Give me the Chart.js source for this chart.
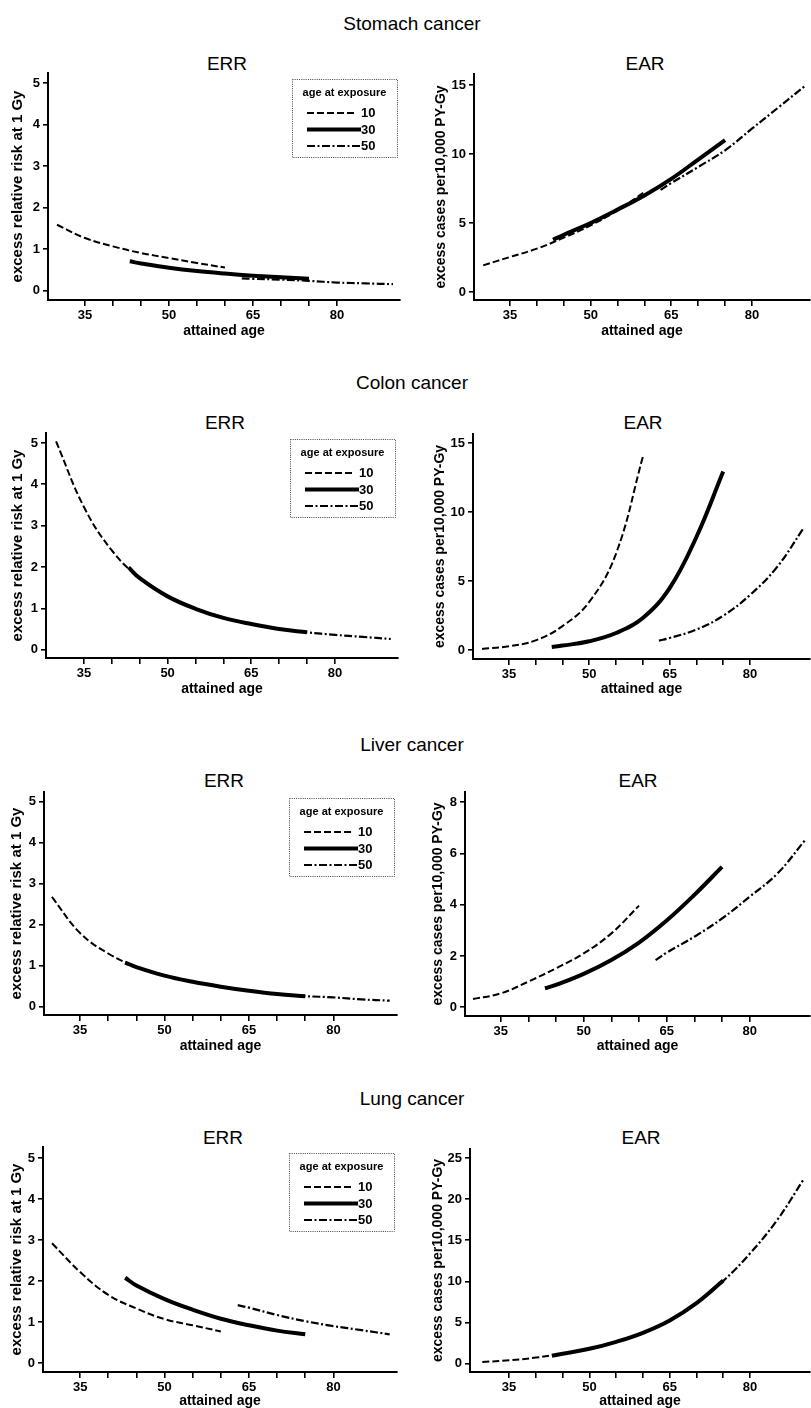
<!DOCTYPE html>
<html>
<head>
<meta charset="utf-8">
<script src="https://cdn.jsdelivr.net/npm/chart.js@4.4.0/dist/chart.umd.min.js"></script>
<style>
html,body{margin:0;padding:0;background:#fff;overflow:hidden;}
#page{position:relative;width:811px;height:1408px;overflow:hidden;background:#fff;font-family:"Liberation Sans",Arial,Helvetica,sans-serif;}
.t{position:absolute;transform:translate(-50%,-50%);font-size:19px;line-height:1;white-space:nowrap;color:#000;}
canvas{position:absolute;}
</style>
</head>
<body>
<div id="page"></div>
<script>
// ---------------- data ----------------
const exposureAges = ['10', '30', '50'];
const legendTitle = 'age at exposure';
const xTicks = [35, 40, 45, 50, 55, 60, 65, 70, 75, 80];
const xTickLabels = [35, 50, 65, 80];
const errTicks = [0, 1, 2, 3, 4, 5];
const ear15Ticks = [0, 5, 10, 15];
const ear8Ticks = [0, 2, 4, 6, 8];
const ear25Ticks = [0, 5, 10, 15, 20, 25];

// attained ages for each age-at-exposure curve
const age10 = [30, 35, 40, 45, 50, 55, 60];
const age30 = [43, 45, 50, 55, 60, 65, 70, 75];
const age50 = [63, 65, 70, 75, 80, 85, 90];

// Stomach
const stomachERR10 = [1.59, 1.27, 1.07, 0.91, 0.79, 0.67, 0.56];
const stomachERR30 = [0.71, 0.66, 0.555, 0.475, 0.415, 0.365, 0.325, 0.29];
const stomachERR50 = [0.30, 0.29, 0.27, 0.24, 0.20, 0.18, 0.16];
const stomachEAR10 = [1.93, 2.54, 3.14, 3.94, 4.83, 5.92, 7.25];
const stomachEAR30 = [3.79, 4.15, 5.0, 5.97, 7.0, 8.2, 9.6, 11.0];
const stomachEAR50 = [7.4, 7.9, 9.06, 10.27, 11.84, 13.4, 14.98];
// Colon
const colonERR10 = [5.04, 3.45, 2.4, 1.73, 1.29, 0.99, 0.78];
const colonERR30 = [1.99, 1.73, 1.29, 0.99, 0.77, 0.62, 0.50, 0.42];
const colonERR50 = [0.67, 0.62, 0.50, 0.42, 0.36, 0.31, 0.26];
const colonEAR10 = [0.1, 0.29, 0.72, 1.75, 3.5, 7.0, 14.0];
const colonEAR30 = [0.24, 0.34, 0.65, 1.25, 2.34, 4.5, 8.2, 12.94];
const colonEAR50 = [0.7, 0.89, 1.5, 2.5, 4.0, 6.0, 8.84];
// Liver
const liverERR10 = [2.68, 1.8, 1.30, 0.98, 0.77, 0.61, 0.49];
const liverERR30 = [1.08, 0.97, 0.76, 0.61, 0.49, 0.39, 0.31, 0.26];
const liverERR50 = [0.42, 0.39, 0.31, 0.26, 0.23, 0.18, 0.15];
const liverEAR10 = [0.32, 0.54, 1.0, 1.52, 2.1, 2.88, 3.96];
const liverEAR30 = [0.74, 0.87, 1.30, 1.84, 2.52, 3.38, 4.38, 5.47];
const liverEAR50 = [1.84, 2.13, 2.75, 3.46, 4.31, 5.21, 6.51];
// Lung
const lungERR10 = [2.92, 2.22, 1.66, 1.33, 1.07, 0.92, 0.77];
const lungERR30 = [2.08, 1.89, 1.56, 1.30, 1.08, 0.92, 0.79, 0.70];
const lungERR50 = [1.41, 1.35, 1.17, 1.02, 0.90, 0.80, 0.70];
const lungEAR10 = [0.2, 0.4, 0.73, 1.22, 1.83, 2.64, 3.74];
const lungEAR30 = [0.95, 1.2, 1.8, 2.65, 3.75, 5.25, 7.35, 10.1];
const lungEAR50 = [4.6, 5.25, 7.35, 10.05, 13.4, 17.4, 22.4];

const cancerTitles = ['Stomach cancer', 'Colon cancer', 'Liver cancer', 'Lung cancer'];
const errTitle = 'ERR';
const earTitle = 'EAR';
const errYTitle = 'excess relative risk at 1 Gy';
const earYTitle = 'excess cases per10,000 PY-Gy';
const xTitle = 'attained age';

// ---------------- layout ----------------
const rows = [
  {titleY: 23, subY: 63, errX: 227, earX: 645,
   err: {L: 48, R: 400, T: 73, B: 300, xTitleY: 332, yTitleX: 18, xMin: 28.4, xMax: 91.25, yMin: -0.22, yMax: 5.24},
   ear: {L: 474, R: 810, T: 74, B: 300, xTitleY: 332, yTitleX: 441, xMin: 28.3, xMax: 90.8, yMin: -0.58, yMax: 15.8},
   errData: [stomachERR10, stomachERR30, stomachERR50], earData: [stomachEAR10, stomachEAR30, stomachEAR50], earTicks: ear15Ticks},
  {titleY: 382, subY: 422, errX: 225, earX: 643,
   err: {L: 46, R: 398, T: 433, B: 658, xTitleY: 690, yTitleX: 18, xMin: 28.2, xMax: 91.3, yMin: -0.2, yMax: 5.24},
   ear: {L: 473, R: 810, T: 434, B: 659, xTitleY: 690, yTitleX: 440, xMin: 28.3, xMax: 91.2, yMin: -0.63, yMax: 15.65},
   errData: [colonERR10, colonERR30, colonERR50], earData: [colonEAR10, colonEAR30, colonEAR50], earTicks: ear15Ticks},
  {titleY: 744, subY: 780, errX: 224, earX: 638,
   err: {L: 44, R: 397, T: 792, B: 1015, xTitleY: 1047, yTitleX: 17, xMin: 28.6, xMax: 91.3, yMin: -0.2, yMax: 5.24},
   ear: {L: 465, R: 810, T: 792, B: 1016, xTitleY: 1047, yTitleX: 438, xMin: 28.55, xMax: 90.9, yMin: -0.34, yMax: 8.39},
   errData: [liverERR10, liverERR30, liverERR50], earData: [liverEAR10, liverEAR30, liverEAR50], earTicks: ear8Ticks},
  {titleY: 1098, subY: 1137, errX: 223, earX: 641,
   err: {L: 43, R: 397, T: 1147, B: 1372, xTitleY: 1402, yTitleX: 17, xMin: 28.4, xMax: 91.3, yMin: -0.22, yMax: 5.27},
   ear: {L: 470, R: 810, T: 1149, B: 1372, xTitleY: 1402, yTitleX: 438, xMin: 27.7, xMax: 91.2, yMin: -1.02, yMax: 26.1},
   errData: [lungERR10, lungERR30, lungERR50], earData: [lungEAR10, lungEAR30, lungEAR50], earTicks: ear25Ticks}
];

const seriesAges = [age10, age30, age50];
const seriesStyles = [
  {borderDash: [7, 3], borderWidth: 2, order: 1},
  {borderDash: [], borderWidth: 4, order: 0},
  {borderDash: [8, 2.5, 2, 2.5], borderWidth: 2.2, order: 2}
];

Chart.defaults.font.family = '"Liberation Sans", Arial, Helvetica, sans-serif';
Chart.defaults.color = '#000';

const ageLegend = {
  id: 'ageLegend',
  afterDraw(chart, args, opts) {
    if (!opts.show) return;
    const ctx = chart.ctx, a = chart.chartArea;
    const w = 105, h = 78;
    const x = Math.round(a.right - 3 - w), y = Math.round(a.top + 6);
    ctx.save();
    ctx.lineWidth = 1;
    ctx.strokeStyle = '#444';
    ctx.setLineDash([1, 1.2]);
    ctx.strokeRect(x + 0.5, y + 0.5, w, h);
    ctx.setLineDash([]);
    ctx.fillStyle = '#000';
    ctx.textBaseline = 'middle';
    ctx.textAlign = 'center';
    ctx.font = 'bold 11px "Liberation Sans", Arial, sans-serif';
    ctx.fillText(legendTitle, x + w / 2, y + 14);
    const ends = [64, 69, 68];
    chart.data.datasets.forEach((ds, i) => {
      const yy = y + 34 + i * 16.5;
      ctx.beginPath();
      ctx.setLineDash(ds.borderDash || []);
      ctx.lineWidth = ds.borderWidth;
      ctx.strokeStyle = '#000';
      ctx.moveTo(x + 15, yy);
      ctx.lineTo(x + ends[i], yy);
      ctx.stroke();
      ctx.setLineDash([]);
      ctx.textAlign = 'left';
      ctx.font = 'bold 13px "Liberation Sans", Arial, sans-serif';
      ctx.fillText(ds.label, x + 69, yy + 0.5);
    });
    ctx.restore();
  }
};

const page = document.getElementById('page');

function addText(txt, x, y) {
  const d = document.createElement('div');
  d.className = 't';
  d.textContent = txt;
  d.style.left = x + 'px';
  d.style.top = y + 'px';
  page.appendChild(d);
}

function buildPanel(geo, series, yTicks, yTitle, yTitleSize, showLegend) {
  const xTitleSize = 14, xLH = xTitleSize * 1.2, yLH = yTitleSize * 1.2;
  const padTop = 14, padRight = geo.R >= 810 ? 1 : 4;
  const scaleLeft = Math.round(geo.yTitleX - yLH / 2);
  const Wy = geo.L - scaleLeft;
  const Hx = Math.round(geo.xTitleY + xLH / 2 - geo.B);
  const cw = Wy + (geo.R - geo.L) + padRight;
  const ch = padTop + (geo.B - geo.T) + Hx;
  const cv = document.createElement('canvas');
  cv.width = cw; cv.height = ch;
  cv.style.width = cw + 'px'; cv.style.height = ch + 'px';
  cv.style.left = scaleLeft + 'px';
  cv.style.top = (geo.T - padTop) + 'px';
  page.appendChild(cv);

  const datasets = series.map((vals, i) => Object.assign({
    label: exposureAges[i],
    data: seriesAges[i].map((a, j) => ({x: a, y: vals[j]})),
    borderColor: '#000',
    backgroundColor: '#000',
    pointRadius: 0,
    pointHoverRadius: 0,
    fill: false,
    tension: 0.4,
    borderCapStyle: 'butt'
  }, seriesStyles[i]));

  new Chart(cv, {
    type: 'line',
    data: {datasets},
    plugins: [ageLegend],
    options: {
      responsive: false,
      animation: false,
      events: [],
      layout: {padding: {top: padTop, right: padRight, left: 0, bottom: 0}},
      plugins: {legend: {display: false}, tooltip: {enabled: false}, title: {display: false}, ageLegend: {show: showLegend}},
      scales: {
        x: {
          type: 'linear', min: geo.xMin, max: geo.xMax,
          afterBuildTicks: s => { s.ticks = xTicks.map(v => ({value: v})); },
          afterFit: s => { s.height = Hx; },
          ticks: {autoSkip: false, maxRotation: 0, padding: 2, color: '#000',
                  font: {size: 13, weight: 'bold'},
                  callback: v => xTickLabels.includes(v) ? String(v) : ''},
          grid: {display: true, drawOnChartArea: false, drawTicks: true, tickLength: 6, color: '#000', lineWidth: 1.6},
          border: {display: true, color: '#000', width: 2},
          title: {display: true, text: xTitle, color: '#000', padding: 0, font: {size: xTitleSize, weight: 'bold'}}
        },
        y: {
          type: 'linear', min: geo.yMin, max: geo.yMax,
          afterBuildTicks: s => { s.ticks = yTicks.map(v => ({value: v})); },
          afterFit: s => { s.width = Wy; },
          ticks: {autoSkip: false, padding: 3, color: '#000', font: {size: 13, weight: 'bold'},
                  callback: v => String(v)},
          grid: {display: true, drawOnChartArea: false, drawTicks: true, tickLength: 5, color: '#000', lineWidth: 1.6},
          border: {display: true, color: '#000', width: 2},
          title: {display: true, text: yTitle, color: '#000', padding: 0, font: {size: yTitleSize, weight: 'bold'}}
        }
      }
    }
  });
}

rows.forEach((r, i) => {
  addText(cancerTitles[i], 412, r.titleY);
  addText(errTitle, r.errX, r.subY);
  addText(earTitle, r.earX, r.subY);
  buildPanel(r.err, r.errData, errTicks, errYTitle, 15, true);
  buildPanel(r.ear, r.earData, r.earTicks, earYTitle, 14, false);
});
</script>
</body>
</html>
